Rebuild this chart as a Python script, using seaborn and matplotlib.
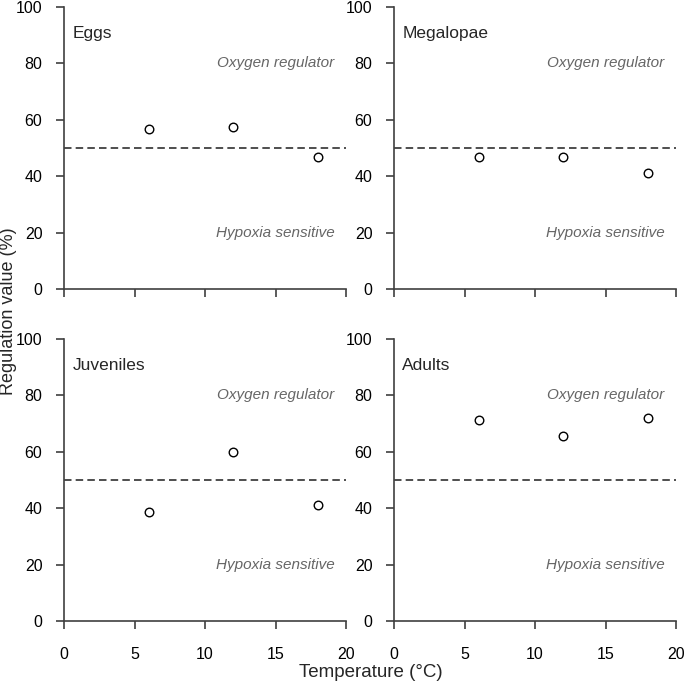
import pandas as pd
import matplotlib
matplotlib.use("Agg")
import matplotlib.pyplot as plt
import seaborn as sns

sns.set_style("ticks")
plt.rcParams['font.family'] = ['Liberation Sans', 'DejaVu Sans']

# temperatures (deg C) tested for every life stage
temperature = [6, 12, 18]
stages = ["Eggs", "Megalopae", "Juveniles", "Adults"]
eggs = [56.8, 57.4, 46.8]
megalopae = [46.8, 46.8, 41.2]
juveniles = [38.7, 60.0, 41.1]
adults = [71.3, 65.5, 72.1]

df = pd.DataFrame({
    "Temperature": temperature * 4,
    "Regulation": eggs + megalopae + juveniles + adults,
    "Stage": [s for s in stages for _ in temperature],
})

fig = plt.figure(figsize=(6.85, 6.87), dpi=100)
W, H = 685, 687
# axes boxes in pixels (left, top, right, bottom)
boxes = [(64, 7, 346, 289), (394, 7, 676, 289),
         (64, 339, 346, 621), (394, 339, 676, 621)]

axis_col = "#404040"
for stage, (l, t, r, b) in zip(stages, boxes):
    ax = fig.add_axes([l / W, 1 - b / H, (r - l) / W, (b - t) / H])
    sub = df[df["Stage"] == stage]
    ax.axhline(50, color="#303030", lw=1.2, ls=(0, (4.5, 2.5)), zorder=1)
    sns.scatterplot(data=sub, x="Temperature", y="Regulation", ax=ax,
                    marker="o", s=38, facecolor="white", edgecolor="black",
                    linewidth=1, zorder=3)
    ax.set_xlim(0, 20)
    ax.set_ylim(0, 100)
    ax.set_xticks([0, 5, 10, 15, 20])
    ax.set_yticks([0, 20, 40, 60, 80, 100])
    ax.set_xlabel("")
    ax.set_ylabel("")
    sns.despine(ax=ax)
    for sp in ["left", "bottom"]:
        ax.spines[sp].set_color(axis_col)
        ax.spines[sp].set_linewidth(1.2)
    ax.tick_params(colors=axis_col, labelcolor="black", labelsize=11.5,
                   length=5.5, width=1.2)
    ax.tick_params(axis="x", pad=13.5)
    ax.tick_params(axis="y", pad=10)
    if t < 300:
        ax.tick_params(axis="x", labelbottom=False)
    ax.text(0.6, 90.5, stage, fontsize=12.5, va="center", ha="left")
    ax.text(19.2, 80, "Oxygen regulator", fontsize=11, style="italic",
            color="#666666", ha="right", va="center")
    ax.text(19.2, 20, "Hypoxia sensitive", fontsize=11, style="italic",
            color="#666666", ha="right", va="center")

fig.text(9 / W, 1 - 311 / H, "Regulation value (%)", rotation=90,
         fontsize=13, ha="center", va="center")
fig.text(371 / W, 1 - 677 / H, "Temperature (°C)", fontsize=13.5,
         ha="center", va="baseline")

fig.savefig("out.png", dpi=100, facecolor="white")
